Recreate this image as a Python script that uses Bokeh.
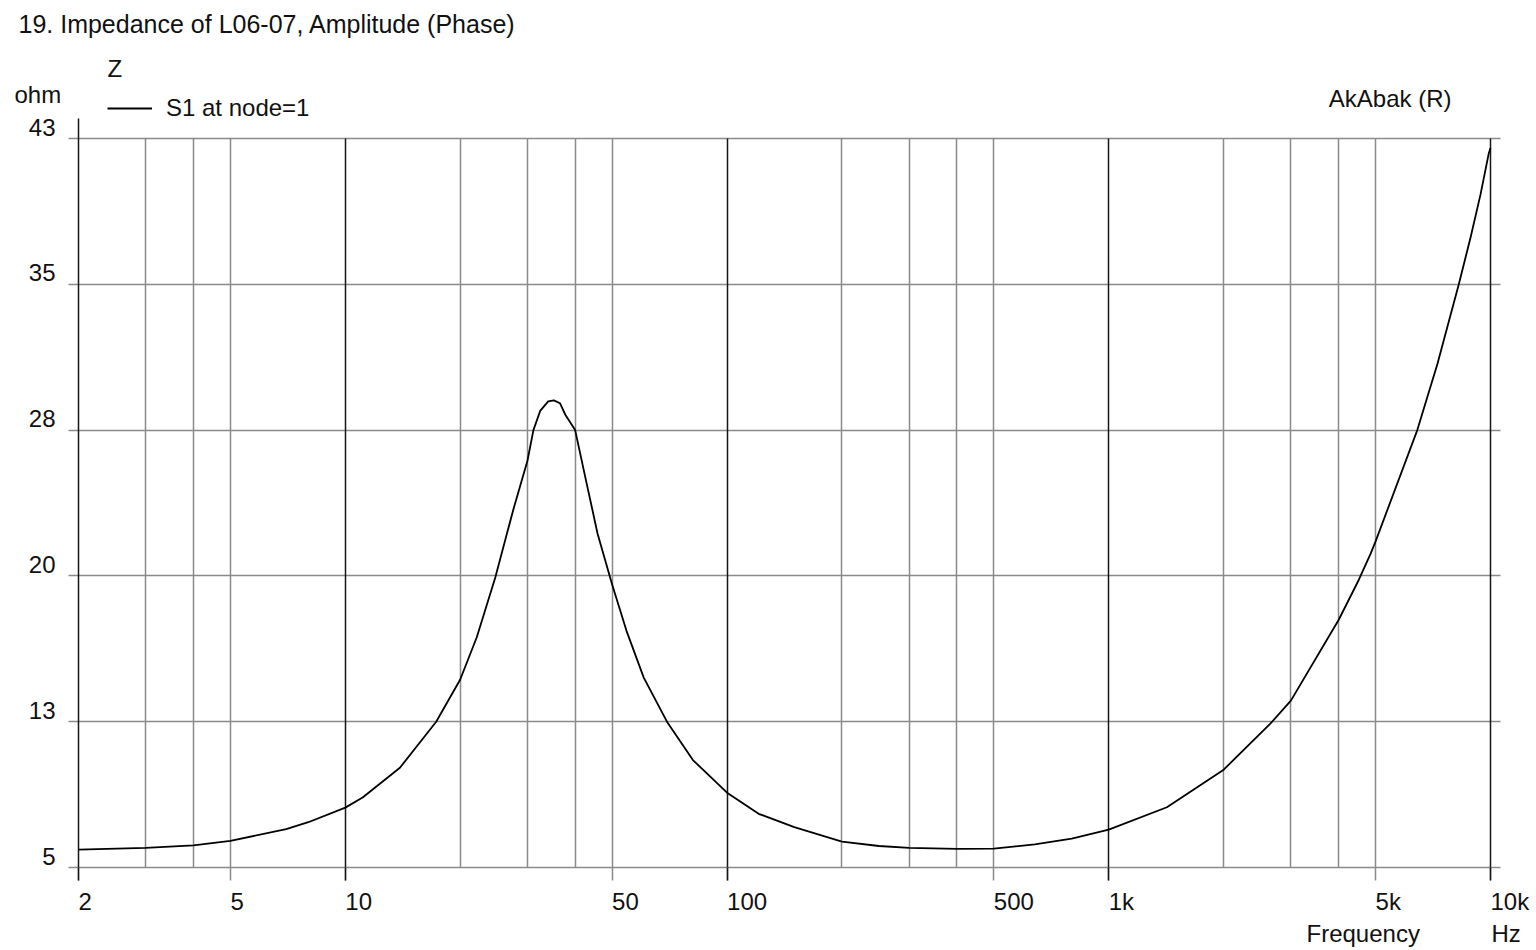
import math
from bokeh.plotting import figure
from bokeh.models import Range1d, FixedTicker, Grid, Label, Legend, LegendItem
from bokeh.embed import file_html
from bokeh.resources import INLINE

# ---- data ----
freq_hz = [2, 3, 4, 5, 7, 8, 10, 11.1, 13.9, 17.3, 20, 22.1, 24.7, 27.5, 30, 31.1,
           32.4, 34, 35.2, 36.5, 37.7, 40, 42.9, 45.8, 50, 54.5, 60.5, 69.6, 81.4,
           100, 121, 150, 200, 250, 300, 400, 500, 640, 800, 1000, 1420, 2000, 2650,
           3000, 4000, 4520, 4850, 5000, 6430, 7260, 8260, 8870, 9420, 9890, 10000]
impedance_ohm = [5.93, 6.02, 6.15, 6.39, 7.0, 7.36, 8.12, 8.65, 10.2, 12.6, 14.8, 17.0,
                 20.1, 23.6, 26.2, 27.8, 28.8, 29.3, 29.35, 29.2, 28.6, 27.8, 25.0,
                 22.4, 19.75, 17.35, 14.9, 12.6, 10.6, 8.9, 7.8, 7.1, 6.35, 6.12, 6.02,
                 5.97, 5.98, 6.2, 6.5, 6.97, 8.14, 10.1, 12.5, 13.7, 17.9, 20.0, 21.35,
                 22.0, 27.8, 31.25, 35.4, 37.85, 40.1, 42.2, 42.5]

y_ticks = [5, 12.6, 20.2, 27.8, 35.4, 43]
y_tick_labels = ["5", "13", "20", "28", "35", "43"]
x_label_ticks = [2, 5, 10, 50, 100, 500, 1000, 5000, 10000]
x_label_text = ["2", "5", "10", "50", "100", "500", "1k", "5k", "10k"]
decade_lines = [2, 10, 100, 1000, 10000]
minor_lines = [3, 4, 5, 20, 30, 40, 50, 200, 300, 400, 500, 2000, 3000, 4000, 5000]

# ---- layout (pixels) ----
W, H = 1536, 950
X_LO_PX, X_HI_PX = 78, 1490      # pixel columns of the first / last frequency
Y_LO_PX, Y_HI_PX = 867, 138      # pixel rows of the lowest / highest ohm tick
GRID_L_PX, GRID_R_PX = 68, 1500  # horizontal grid extent
AXIS_TOP_PX = 118                # top of the left (2 Hz) line

f_lo, f_hi = decade_lines[0], decade_lines[-1]
z_lo, z_hi = y_ticks[0], y_ticks[-1]
px_per_dec = (X_HI_PX - X_LO_PX) / math.log10(f_hi / f_lo)
px_per_ohm = (Y_LO_PX - Y_HI_PX) / (z_hi - z_lo)

def fx(px):
    return f_lo * 10 ** ((px - X_LO_PX) / px_per_dec)

def vy(py):
    return z_lo + (Y_LO_PX - py) / px_per_ohm

FONT = "Liberation Sans"
FS = "24px"
TXT = "#111111"
GRAY = "#8a8a8a"
DARK = "#151515"

p = figure(width=W, height=H, x_axis_type="log",
           x_range=Range1d(fx(0), fx(W)), y_range=Range1d(vy(H), vy(0)),
           output_backend="svg", toolbar_location=None,
           min_border=0, min_border_left=0, min_border_right=0,
           min_border_top=0, min_border_bottom=0)
p.outline_line_color = None
p.background_fill_color = "white"
p.border_fill_color = "white"

# x axis drawn along the 5-ohm line
xa = p.xaxis[0]
xa.fixed_location = z_lo
xa.ticker = FixedTicker(ticks=x_label_ticks, minor_ticks=decade_lines)
xa.major_label_overrides = {t: s for t, s in zip(x_label_ticks, x_label_text)}
xa.axis_line_color = None
xa.major_tick_in = 0
xa.major_tick_out = 13
xa.major_tick_line_color = GRAY
xa.major_tick_line_width = 1.5
xa.minor_tick_in = 0
xa.minor_tick_out = 13
xa.minor_tick_line_color = DARK
xa.minor_tick_line_width = 1.5
xa.major_label_orientation = -0.0001   # left-aligned labels at the ticks
xa.major_label_standoff = 21
xa.major_label_text_font = FONT
xa.major_label_text_font_size = FS
xa.major_label_text_color = TXT

# y axis drawn at the left end of the grid
ya = p.yaxis[0]
ya.fixed_location = fx(GRID_L_PX)
ya.ticker = FixedTicker(ticks=y_ticks)
ya.major_label_overrides = {t: s + "\n" for t, s in zip(y_ticks, y_tick_labels)}
ya.major_label_text_line_height = 0.85
ya.axis_line_color = None
ya.major_tick_in = 0
ya.major_tick_out = 0
ya.minor_tick_line_color = None
ya.major_label_standoff = 13
ya.major_label_text_font = FONT
ya.major_label_text_font_size = FS
ya.major_label_text_color = TXT

# grids
p.ygrid[0].ticker = FixedTicker(ticks=y_ticks)
p.ygrid[0].cross_bounds = (fx(GRID_L_PX), fx(GRID_R_PX))
p.ygrid[0].grid_line_color = GRAY
p.ygrid[0].grid_line_width = 1.5
p.xgrid[0].ticker = FixedTicker(ticks=minor_lines)
p.xgrid[0].cross_bounds = (z_lo, z_hi)
p.xgrid[0].grid_line_color = GRAY
p.xgrid[0].grid_line_width = 1.5
p.add_layout(Grid(dimension=0, ticker=FixedTicker(ticks=decade_lines[1:]),
                  cross_bounds=(z_lo, z_hi),
                  grid_line_color=DARK, grid_line_width=1.5))
p.add_layout(Grid(dimension=0, ticker=FixedTicker(ticks=decade_lines[:1]),
                  cross_bounds=(z_lo, vy(AXIS_TOP_PX)),
                  grid_line_color=DARK, grid_line_width=1.5))

# curve
r = p.line(freq_hz, impedance_ohm, line_color="black", line_width=1.8,
           line_join="round")

legend = Legend(items=[LegendItem(label="S1 at node=1", renderers=[r])],
                location=(107, H - 122), padding=0, margin=0, spacing=0,
                glyph_width=45, glyph_height=20, label_standoff=14,
                label_text_font=FONT, label_text_font_size=FS,
                label_text_color=TXT, border_line_color=None,
                background_fill_alpha=0)
p.add_layout(legend)

def lab(x, y_from_top, text, align="left", size=FS):
    p.add_layout(Label(x=x, y=H - y_from_top, x_units="screen", y_units="screen",
                       text=text, text_font=FONT, text_font_size=size,
                       text_color=TXT, text_align=align, text_baseline="middle"))

lab(18, 23, "19. Impedance of L06-07, Amplitude (Phase)", size="25px")
lab(107, 68, "Z")
lab(14, 94, "ohm")
lab(1451, 98, "AkAbak (R)", "right")
lab(1306, 933, "Frequency")
lab(1491, 933, "Hz")

open("out.html", "w").write(file_html(p, INLINE))
